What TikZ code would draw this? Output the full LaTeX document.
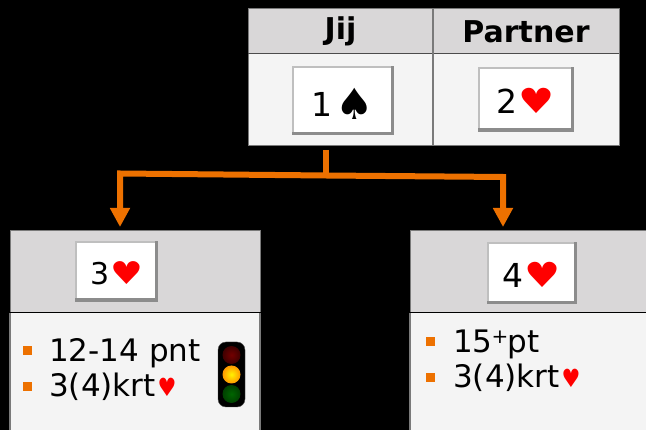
\documentclass[tikz,border=0pt]{standalone}
\usepackage{fontspec}
\usepackage{graphicx}
\setmainfont{DejaVu Sans}
\usetikzlibrary{arrows.meta, positioning, calc}
\definecolor{CHead}{HTML}{D9D7D8}
\definecolor{CBody}{HTML}{F4F4F4}
\definecolor{CEdge}{HTML}{7A7A7A}
\definecolor{COrange}{HTML}{ED7100}
\newcommand{\hart}{\scalebox{1.22}[1.05]{\color{red}♥}}
\newcommand{\kleinhart}{{\fontsize{21}{24}\selectfont\scalebox{1}[1.2]{\color{red}♥}}}
\newcommand{\schop}{\raisebox{-3pt}{\scalebox{1.3}{\color{black}♠}}}
\tikzset{
    kopcel/.style={
        rectangle,
        draw=CEdge,
        fill=CHead,
        outer sep=0pt,
        align=center,
        line width=1pt
    },
    romp/.style={
        rectangle,
        draw=CEdge,
        fill=CBody,
        outer sep=0pt,
        line width=1pt
    },
    kaart/.style={
        rectangle,
        fill=white,
        inner sep=0pt,
        align=center,
        text height=29pt,
        text depth=0pt,
        font=\fontsize{33}{40}\selectfont,
        path picture={
            \fill[gray!50] (path picture bounding box.north west) rectangle ([yshift=-2pt]path picture bounding box.north east);
            \fill[gray!50] (path picture bounding box.north west) rectangle ([xshift=2pt]path picture bounding box.south west);
            \fill[gray!90] (path picture bounding box.south west) rectangle ([yshift=3.5pt]path picture bounding box.south east);
            \fill[gray!90] ([xshift=-3.5pt]path picture bounding box.south east) rectangle (path picture bounding box.north east);
        }
    },
    punt/.style={
        rectangle,
        fill=COrange,
        inner sep=0pt,
        minimum size=9pt
    },
    tekst/.style={
        anchor=base west,
        inner sep=0pt,
        font=\fontsize{31}{36}\selectfont
    },
    lamp/.style={
        circle,
        inner sep=0pt,
        minimum size=18pt
    },
    tak/.style={
        draw=COrange,
        line width=6pt
    },
    takpijl/.style={
        tak,
        -{Triangle[length=19pt, width=19pt]},
        shorten >=4pt
    }
}
\begin{document}
\begin{tikzpicture}[x=1pt, y=-1pt, node distance=0pt]
    \useasboundingbox (0,0) rectangle (646,430);
    \fill[black] (0,0) rectangle (646,430);
    \clip (0,0) rectangle (646,430);

    % Top table
    \node[kopcel, minimum width=185pt, minimum height=45pt, font=\fontsize{30}{36}\selectfont\bfseries] (jijkop) at (340.5,31.5) {Jij};
    \node[kopcel, minimum width=186pt, minimum height=45pt, font=\fontsize{30}{36}\selectfont\bfseries, right=of jijkop] (partnerkop) {Partner};
    \node[romp, minimum width=185pt, minimum height=92pt, below=of jijkop] (jijromp) {};
    \node[romp, minimum width=186pt, minimum height=92pt, below=of partnerkop] (partnerromp) {};
    \draw[black!70, line width=1pt] (jijkop.south west) -- (partnerkop.south east);
    \draw[CEdge, line width=2pt] (jijkop.north east) -- (jijromp.south east);
    \node[kaart, minimum width=102pt, minimum height=69pt, text height=32pt] (bod1) at (343,101) {1\hspace{3pt}\schop};
    \node[kaart, minimum width=96pt, minimum height=65pt] (bod2) at (526,99.5) {2\hspace{1pt}\hart};

    % Left panel
    \node[kopcel, minimum width=250pt, minimum height=82pt] (linkskop) at (135,272) {};
    \node[romp, minimum width=250pt, minimum height=140pt, below=of linkskop, draw=black] (linksromp) {};
    \draw[CEdge, line width=1.5pt] (linksromp.north west) -- (linksromp.south west);
    \draw[CEdge, line width=1.5pt] (linksromp.north east) -- (linksromp.south east);
    \draw[black, line width=1pt] (linksromp.north west) -- (linksromp.north east);
    \node[kaart, minimum width=83pt, minimum height=61pt, text height=27pt, font=\fontsize{30}{36}\selectfont] (bod3) at (116.5,271.5) {3\hspace{1pt}\hart};
    \node[punt] (punt1) at (27.5,350.5) {};
    \node[punt] (punt2) at (27.5,386.5) {};
    \node[tekst] (punten3) at (49,362) {12-14 pnt};
    \node[tekst] (lengte3) at (49,397) {3(4)krt\hspace{2pt}\kleinhart};

    % Traffic light
    \node[rectangle, fill=black, draw=gray!60!black, rounded corners=8pt, minimum width=27pt, minimum height=65pt] (stoplicht) at (231.5,374.5) {};
    \node[lamp, inner color=red!45!black, outer color=red!25!black] (rood) at ([yshift=19.5pt]stoplicht.center) {};
    \node[lamp, inner color=yellow!90!orange, outer color=orange!80!yellow] (geel) at (stoplicht.center) {};
    \node[lamp, inner color=green!40!black, outer color=green!25!black] (groen) at ([yshift=-19.5pt]stoplicht.center) {};

    % Right panel
    \node[kopcel, minimum width=250pt, minimum height=82pt] (rechtskop) at (535,272) {};
    \node[romp, minimum width=250pt, minimum height=140pt, below=of rechtskop, draw=black] (rechtsromp) {};
    \draw[CEdge, line width=1.5pt] (rechtsromp.north west) -- (rechtsromp.south west);
    \draw[black, line width=1pt] (rechtsromp.north west) -- (rechtsromp.north east);
    \node[kaart, minimum width=90pt, minimum height=62pt] (bod4) at (532,273.5) {4\hspace{1pt}\hart};
    \node[punt] (punt3) at (430.5,341.5) {};
    \node[punt] (punt4) at (430.5,377.5) {};
    \node[tekst] (punten4) at (453,353) {15\hspace{-1pt}\raisebox{9pt}{\fontsize{20}{22}\selectfont +}\hspace{-1pt}pt};
    \node[tekst] (lengte4) at (453,388) {3(4)krt\hspace{2pt}\kleinhart};

    % Paths
    \coordinate (splitsing) at (326,175.5);
    \coordinate (knik3) at (120,173.5);
    \coordinate (knik4) at (503,177);
    \draw[tak, shorten <=4pt] (splitsing |- jijromp.south) -- (splitsing);
    \draw[takpijl] (splitsing) -- (knik3) -- (knik3 |- linkskop.north);
    \draw[takpijl] (splitsing) -- (knik4) -- (knik4 |- rechtskop.north);

\end{tikzpicture}
\end{document}
